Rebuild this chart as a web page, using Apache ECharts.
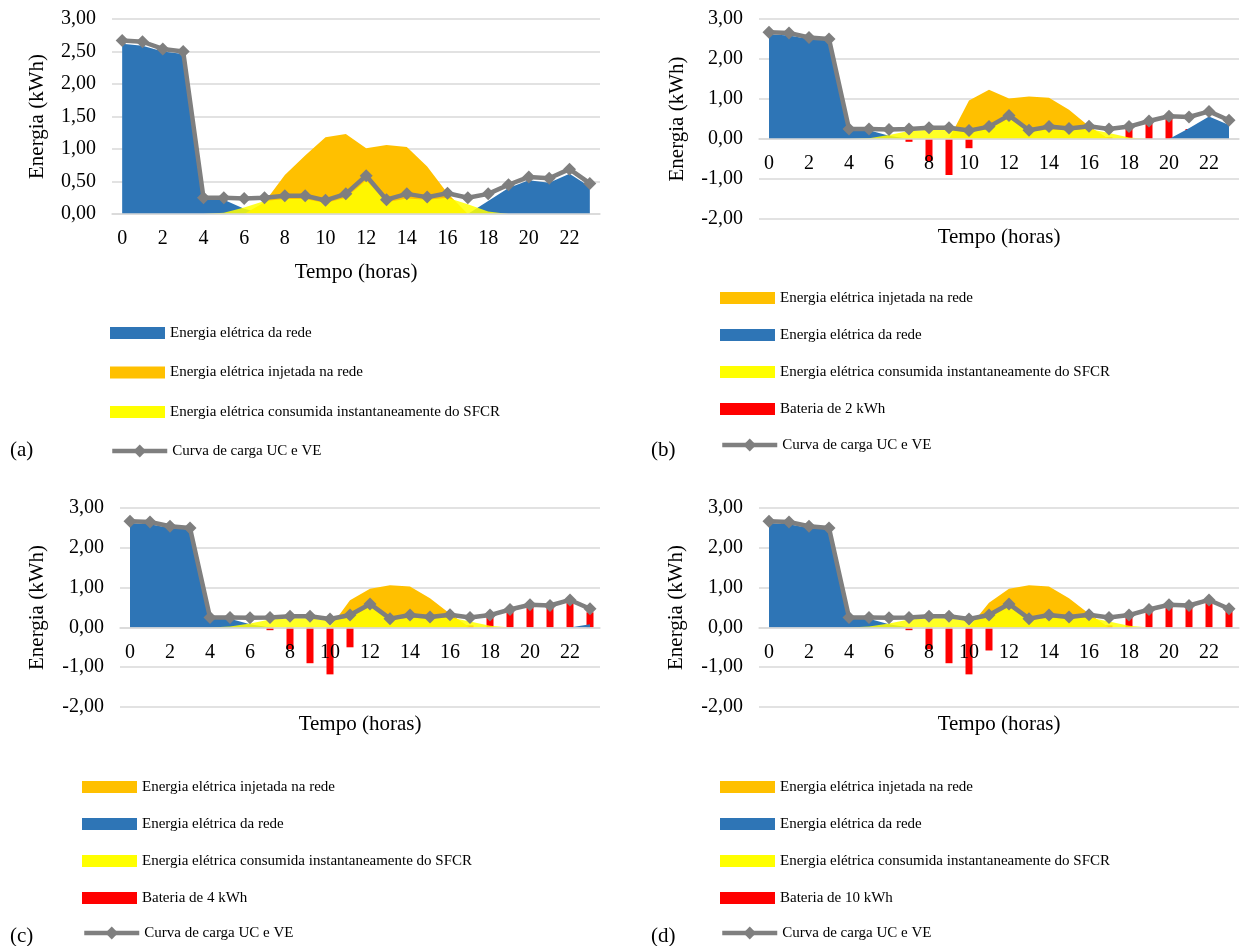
<!DOCTYPE html>
<html>
<head>
<meta charset="utf-8">
<script src="https://cdn.jsdelivr.net/npm/echarts@6/dist/echarts.min.js"></script>
<style>
html,body{margin:0;padding:0;background:#fff;}
#c{width:1242px;height:946px;}
</style>
</head>
<body>
<div id="c"></div>
<script>
// ---------- DATA ----------
const hours = ['0','1','2','3','4','5','6','7','8','9','10','11','12','13','14','15','16','17','18','19','20','21','22','23'];

const loadCurve = [2.67,2.65,2.54,2.50,0.25,0.25,0.24,0.25,0.28,0.28,0.21,0.31,0.59,0.22,0.31,0.26,0.32,0.25,0.31,0.45,0.57,0.55,0.69,0.47];

const consumed = [0,0,0,0,0,0.02,0.10,0.20,0.23,0.23,0.17,0.25,0.52,0.18,0.24,0.22,0.25,0.15,0.04,0,0,0,0,0];

const gridA = [2.62,2.59,2.50,2.46,0.23,0.22,0.08,0,0,0,0,0,0,0,0,0,0,0,0.20,0.40,0.52,0.48,0.62,0.42];
const gridB = [2.62,2.59,2.50,2.46,0.23,0.22,0.08,0,0,0,0,0,0,0,0,0,0,0,0,0,0,0.27,0.56,0.35];
const gridC = [2.62,2.59,2.50,2.46,0.23,0.22,0.08,0,0,0,0,0,0,0,0,0,0,0,0,0,0,0,0,0.08];
const gridD = [2.62,2.59,2.50,2.46,0.23,0.22,0.08,0,0,0,0,0,0,0,0,0,0,0,0,0,0,0,0,0];

const injA = [0,0,0,0,0,0,0,0.18,0.60,0.90,1.18,1.23,1.01,1.06,1.03,0.73,0.32,0,0,0,0,0,0,0];
const injB = [0,0,0,0,0,0,0,0,0,0,0.96,1.23,1.01,1.06,1.03,0.73,0.32,0,0,0,0,0,0,0];
const injC = [0,0,0,0,0,0,0,0,0,0,0,0.68,0.97,1.06,1.03,0.73,0.34,0,0,0,0,0,0,0];
const injD = [0,0,0,0,0,0,0,0,0,0,0,0.62,0.97,1.06,1.03,0.73,0.34,0,0,0,0,0,0,0];

const batB = [0,0,0,0,0,0,0,-0.07,-0.55,-0.90,-0.23,0,0,0,0,0,0,0.04,0.26,0.43,0.55,0.25,0,0];
const batC = [0,0,0,0,0,0,0,-0.07,-0.55,-0.90,-1.18,-0.50,0,0,0,0,0,0.05,0.26,0.43,0.55,0.53,0.66,0.38];
const batD = [0,0,0,0,0,0,0,-0.07,-0.55,-0.90,-1.18,-0.58,0,0,0,0,0,0.05,0.26,0.43,0.55,0.53,0.66,0.45];

const yTicksA = [0,0.5,1,1.5,2,2.5,3];
const yTicksB = [-2,-1,0,1,2,3];

const N_GRID = 'Energia elétrica da rede';
const N_INJ = 'Energia elétrica injetada na rede';
const N_CONS = 'Energia elétrica consumida instantaneamente do SFCR';
const N_LOAD = 'Curva de carga UC e VE';
const N_BAT = ['Bateria de 2 kWh','Bateria de 4 kWh','Bateria de 10 kWh'];
const panelLabels = ['(a)','(b)','(c)','(d)'];
const xTitle = 'Tempo (horas)';
const yTitle = 'Energia (kWh)';

// ---------- STYLE ----------
const C_BLUE = '#2E75B6', C_ORANGE = '#FFC000', C_YELLOW = '#FFFF00', C_RED = '#FF0000', C_GRAY = '#7F7F7F', C_GRID = '#D9D9D9';
const FONT = '"Liberation Serif", "Times New Roman", serif';

const fmt = v => v.toFixed(2).replace('.', ',');

const grids = [
  {left:112, top:19, width:488, height:195},
  {left:759, top:19, width:480, height:200},
  {left:120, top:508, width:480, height:199},
  {left:759, top:508, width:480, height:199}
];
const yNameGap = [64, 71, 72, 72];
const xNameGap = [48, 88, 87, 87];

const xAxes = grids.map((g,i)=>{
  const t = i===0 ? yTicksA : yTicksB;
  const lo = t[0], hi = t[t.length-1];
  // place axis at value 0 (as in the original), measured from the bottom of the grid
  const off = -g.height * (0 - lo) / (hi - lo);
  return {
    type:'category', gridIndex:i, data:hours, boundaryGap:true, position:'bottom', offset:off, z:3,
    axisLine:{show:true, onZero:false, lineStyle:{color:C_GRID, width:1.5}},
    axisTick:{show:false},
    axisLabel:{interval:1, color:'#000', fontFamily:FONT, fontSize:20, margin:15},
    splitLine:{show:false},
    name:xTitle, nameLocation:'middle', nameGap:xNameGap[i],
    nameTextStyle:{color:'#000', fontFamily:FONT, fontSize:21}
  };
});

const yAxes = grids.map((g,i)=>{
  const t = i===0 ? yTicksA : yTicksB;
  return {
    type:'value', gridIndex:i, min:t[0], max:t[t.length-1], interval:t[1]-t[0],
    axisLine:{show:false}, axisTick:{show:false},
    axisLabel:{color:'#000', fontFamily:FONT, fontSize:20, margin:16, formatter:fmt},
    splitLine:{show:true, lineStyle:{color:C_GRID, width:1.5}},
    name:yTitle, nameLocation:'middle', nameGap:yNameGap[i], nameRotate:90,
    nameTextStyle:{color:'#000', fontFamily:FONT, fontSize:21}
  };
});

function area(name, data, color, idx, opacity){
  return {
    name, type:'line', xAxisIndex:idx, yAxisIndex:idx, data,
    color, symbol:'none', showSymbol:false, silent:true,
    lineStyle:{width:0, opacity:0},
    areaStyle:{color, opacity: opacity==null?1:opacity},
    itemStyle:{color},
    emphasis:{disabled:true}
  };
}
function bars(name, data, idx){
  return {
    name, type:'bar', xAxisIndex:idx, yAxisIndex:idx, data, color:C_RED,
    barWidth:7, itemStyle:{color:C_RED}, silent:true
  };
}
function loadLine(idx){
  return {
    name:N_LOAD, type:'line', xAxisIndex:idx, yAxisIndex:idx, data:loadCurve,
    color:C_GRAY, symbol:'diamond', symbolSize:13, showSymbol:true,
    lineStyle:{color:C_GRAY, width:4.5}, itemStyle:{color:C_GRAY}, silent:true, z:5
  };
}

const series = [
  area(N_GRID, gridA, C_BLUE, 0),
  area(N_INJ, injA, C_ORANGE, 0),
  area(N_CONS, consumed, C_YELLOW, 0, 0.85),
  loadLine(0)
];
const gridSets = [gridB, gridC, gridD];
const injSets = [injB, injC, injD];
const batSets = [batB, batC, batD];
for (let k=0;k<3;k++){
  const idx = k+1;
  series.push(area(N_INJ, injSets[k], C_ORANGE, idx));
  series.push(area(N_GRID, gridSets[k], C_BLUE, idx));
  series.push(area(N_CONS, consumed, C_YELLOW, idx, 0.85));
  series.push(bars(N_BAT[k], batSets[k], idx));
  series.push(loadLine(idx));
}

const legendText = {color:'#000', fontFamily:FONT, fontSize:15, lineHeight:16};
function legendRects(left, top, gap, names){
  return {
    orient:'vertical', left, top, itemGap:gap, itemWidth:55, itemHeight:12,
    padding:0, textStyle:legendText, selectedMode:false,
    data: names.map(n => ({name:n, icon:'rect'}))
  };
}
function legendLine(left, centerY){
  return {
    orient:'vertical', left, top:centerY-8, itemWidth:55, itemHeight:16,
    padding:0, textStyle:legendText, selectedMode:false,
    data:[{name:N_LOAD, lineStyle:{width:4.5, color:C_GRAY}, itemStyle:{color:C_GRAY}}]
  };
}
const legends = [
  legendRects(110, 325, 23.5, [N_GRID, N_INJ, N_CONS]),
  legendLine(110, 451),
  legendRects(720, 290, 21, [N_INJ, N_GRID, N_CONS, N_BAT[0]]),
  legendLine(720, 445),
  legendRects(82, 779, 21, [N_INJ, N_GRID, N_CONS, N_BAT[1]]),
  legendLine(82, 933),
  legendRects(720, 779, 21, [N_INJ, N_GRID, N_CONS, N_BAT[2]]),
  legendLine(720, 933)
];

const labelPos = [[10,440],[651,440],[10,926],[651,926]];
const graphic = panelLabels.map((t,i)=>({
  type:'text', left:labelPos[i][0], top:labelPos[i][1],
  style:{text:t, font:'21px ' + FONT, fill:'#000'}
}));

const chart = echarts.init(document.getElementById('c'), null, {renderer:'canvas'});
chart.setOption({
  animation:false,
  backgroundColor:'#fff',
  grid:grids,
  xAxis:xAxes,
  yAxis:yAxes,
  legend:legends,
  graphic,
  series
});
</script>
</body>
</html>
